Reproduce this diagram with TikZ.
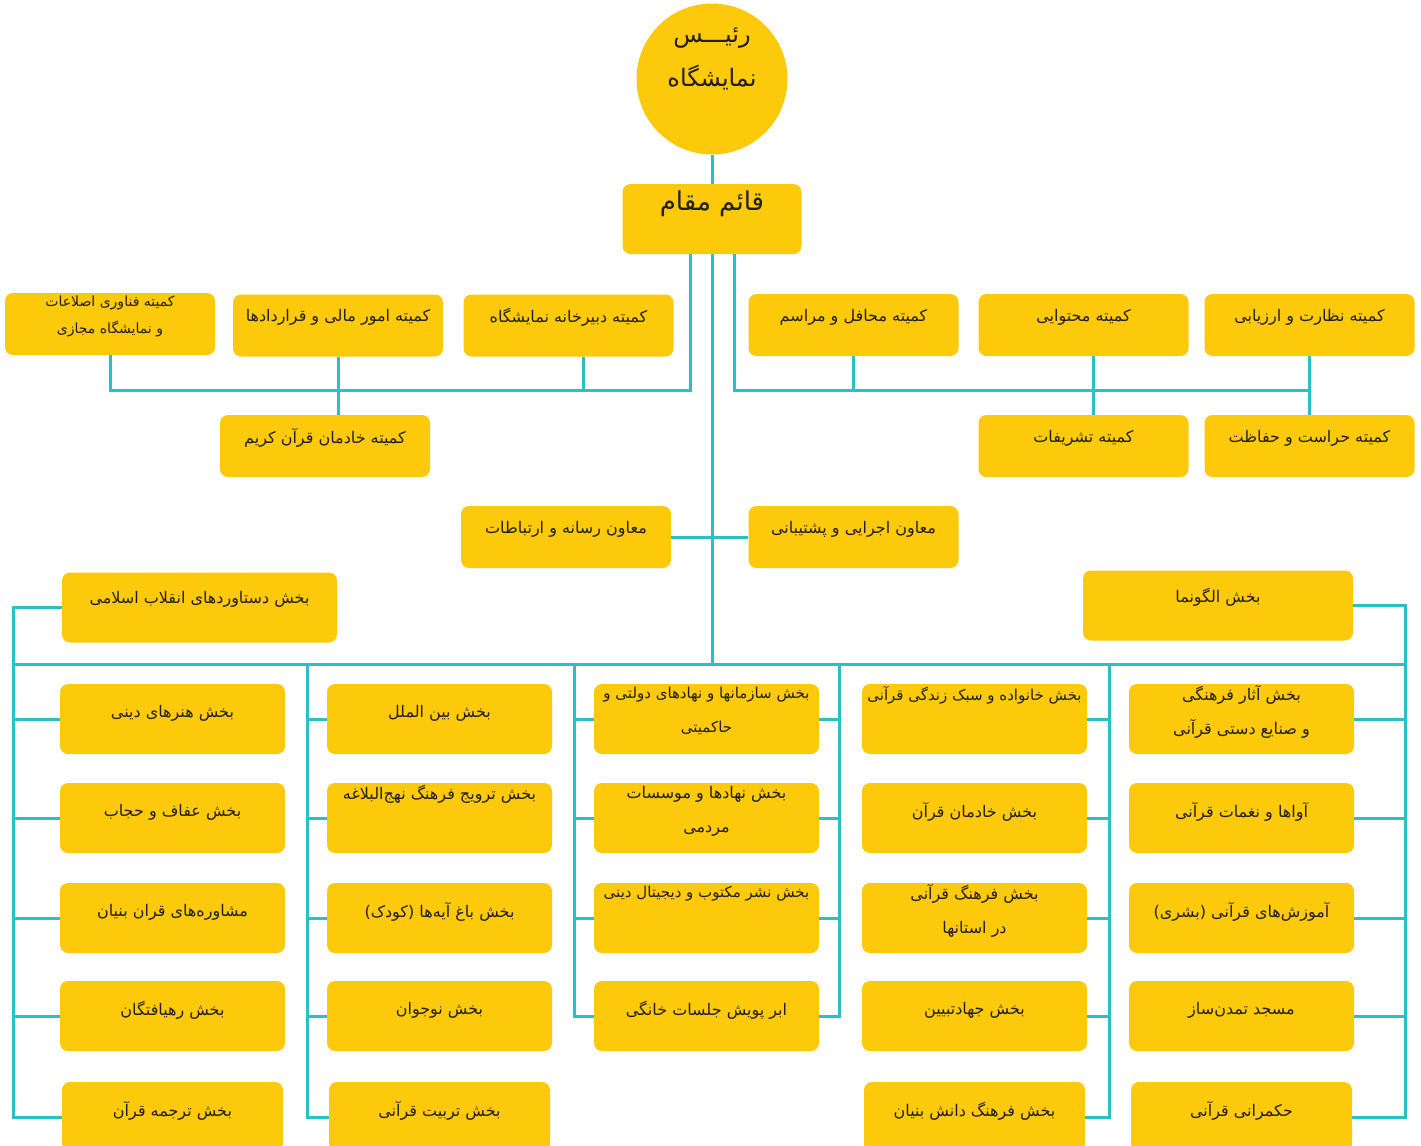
\documentclass[tikz,border=0pt]{standalone}
\usepackage{fontspec}
\newfontfamily\farsi[Script=Arabic]{DejaVu Sans}
\TeXXeTstate=1
\definecolor{boxyellow}{RGB}{253,201,11}
\definecolor{linkteal}{RGB}{44,192,196}
\definecolor{inkgray}{RGB}{35,31,32}
\newcommand{\fa}[1]{\beginR#1\endR}
\tikzset{
  drop/.store in=\boxdrop, drop=10pt,
  unitbox/.style={rectangle, rounded corners=4pt, fill=boxyellow, text=inkgray,
    align=center, inner sep=2pt, font=\farsi\fontsize{8}{17}\selectfont,
    execute at end node={\rule[-\boxdrop]{0pt}{0pt}}},
  cmtbox/.style={unitbox, minimum width=105pt, minimum height=31pt, drop=10pt},
  secbox/.style={unitbox, minimum width=112.5pt, minimum height=35pt, drop=8pt},
  twoline/.style={inner ysep=0pt, drop=9pt},
  small/.style={font=\farsi\fontsize{7.5}{17}\selectfont},
  link/.style={draw=linkteal, line width=1.5pt},
}
\begin{document}
\begin{tikzpicture}[x=0.5pt, y=-0.5pt]
  \useasboundingbox (0,0) rectangle (1421,1146);

  % head of the exhibition
  \node[circle, fill=boxyellow, minimum size=75.5pt, inner sep=0pt] (chief) at (712,79) {};
  \node[text=inkgray, align=center, font=\farsi\fontsize{12}{22}\selectfont] (chieflbl) at (712,59)
    {\fa{رئیـــس}\\\fa{نمایشگاه}};
  \node[unitbox, minimum width=89.5pt, minimum height=35pt, font=\farsi\fontsize{13}{17}\selectfont,
    drop=18pt] (deputy) at (712,219) {\fa{قائم مقام}};

  % committees, left
  \node[cmtbox, twoline, font=\farsi\fontsize{7}{13.5}\selectfont] (cmtIT) at (110,324)
    {\fa{کمیته فناوری اصلاعات}\\\fa{و نمایشگاه مجازی}};
  \node[cmtbox] (cmtFin) at (338,325.5) {\fa{کمیته امور مالی و قراردادها}};
  \node[cmtbox] (cmtSec) at (568.5,325.5) {\fa{کمیته دبیرخانه نمایشگاه}};
  \node[cmtbox] (cmtKhad) at (325,446) {\fa{کمیته خادمان قرآن کریم}};

  % committees, right
  \node[cmtbox] (cmtMah) at (853.5,325) {\fa{کمیته محافل و مراسم}};
  \node[cmtbox] (cmtMoh) at (1083.5,325) {\fa{کمیته  محتوایی}};
  \node[cmtbox] (cmtNez) at (1309.5,325) {\fa{کمیته نظارت و ارزیابی}};
  \node[cmtbox] (cmtTash) at (1083.5,446) {\fa{کمیته تشریفات}};
  \node[cmtbox] (cmtHar) at (1309.5,446) {\fa{کمیته حراست و حفاظت}};

  % deputies
  \node[cmtbox] (vpMedia) at (566,537) {\fa{معاون رسانه و ارتباطات}};
  \node[cmtbox] (vpExec) at (853.5,537) {\fa{معاون اجرایی و پشتیبانی}};

  % top sections
  \node[secbox, minimum width=137.5pt, drop=10pt] (secAch) at (199.5,607.5) {\fa{بخش دستاوردهای انقلاب اسلامی}};
  \node[secbox, minimum width=135pt, drop=10pt] (secOlg) at (1218,605.5) {\fa{بخش الگونما}};

  % column 1
  \node[secbox] (c1r1) at (172.5,719) {\fa{بخش هنرهای دینی}};
  \node[secbox] (c1r2) at (172.5,818) {\fa{بخش عفاف و حجاب}};
  \node[secbox] (c1r3) at (172.5,918) {\fa{مشاوره‌های قران بنیان}};
  \node[secbox] (c1r4) at (172.5,1016) {\fa{بخش رهیافتگان}};
  \node[secbox, minimum width=110.5pt] (c1r5) at (172.5,1117) {\fa{بخش ترجمه قرآن}};

  % column 2
  \node[secbox] (c2r1) at (439.5,719) {\fa{بخش بین الملل}};
  \node[secbox, twoline] (c2r2) at (439.5,818) {\fa{بخش ترویج فرهنگ نهج‌البلاغه}\\\mbox{}};
  \node[secbox] (c2r3) at (439.5,918) {\fa{بخش باغ آیه‌ها (کودک)}};
  \node[secbox] (c2r4) at (439.5,1016) {\fa{بخش نوجوان}};
  \node[secbox, minimum width=110.5pt] (c2r5) at (439.5,1117) {\fa{بخش تربیت قرآنی}};

  % column 3
  \node[secbox, twoline, small] (c3r1) at (706.5,719) {\fa{بخش سازمانها و نهادهای دولتی و}\\\fa{حاکمیتی}};
  \node[secbox, twoline] (c3r2) at (706.5,818) {\fa{بخش نهادها و موسسات}\\\fa{مردمی}};
  \node[secbox, twoline, small] (c3r3) at (706.5,918) {\fa{بخش نشر مکتوب و دیجیتال دینی}\\\mbox{}};
  \node[secbox] (c3r4) at (706.5,1016) {\fa{ابر پویش جلسات خانگی}};

  % column 4
  \node[secbox, twoline, small] (c4r1) at (974.5,719) {\fa{بخش خانواده و سبک زندگی قرآنی}\\\mbox{}};
  \node[secbox] (c4r2) at (974.5,818) {\fa{بخش خادمان قرآن}};
  \node[secbox, twoline] (c4r3) at (974.5,918) {\fa{بخش فرهنگ قرآنی}\\\fa{در استانها}};
  \node[secbox] (c4r4) at (974.5,1016) {\fa{بخش جهادتبیین}};
  \node[secbox, minimum width=110.5pt] (c4r5) at (974.5,1117) {\fa{بخش فرهنگ دانش بنیان}};

  % column 5
  \node[secbox, twoline] (c5r1) at (1241.5,719) {\fa{بخش آثار فرهنگی}\\\fa{و صنایع دستی قرآنی}};
  \node[secbox] (c5r2) at (1241.5,818) {\fa{آواها و نغمات قرآنی}};
  \node[secbox] (c5r3) at (1241.5,918) {\fa{آموزش‌های قرآنی (بشری)}};
  \node[secbox] (c5r4) at (1241.5,1016) {\fa{مسجد تمدن‌ساز}};
  \node[secbox, minimum width=110.5pt] (c5r5) at (1241.5,1117) {\fa{حکمرانی قرآنی}};

  % links to the committees
  \coordinate (cmtbusL) at (690,390);
  \coordinate (cmtbusR) at (734,390);
  \draw[link] (chief.south) -- (chief.south |- deputy.north);
  \draw[link] ([xshift=-11pt]deputy.south) -- (cmtbusL) -| (cmtIT.south);
  \draw[link] ([xshift=7.25pt]cmtSec.south) -- ([xshift=7.25pt]cmtSec.south |- cmtbusL);
  \draw[link] (cmtFin.south) -- (cmtFin.south |- cmtKhad.north);
  \draw[link] ([xshift=11pt]deputy.south) -- (cmtbusR) -| (cmtNez.south);
  \draw[link] (cmtNez.south) -- (cmtHar.north);
  \draw[link] (cmtMah.south) -- (cmtMah.south |- cmtbusR);
  \draw[link] ([xshift=4.75pt]cmtMoh.south) -- ([xshift=4.75pt]cmtTash.north);

  % trunk and main bus
  \coordinate (sp1) at (13,664);
  \coordinate (sp2) at (307,664);
  \coordinate (sp3) at (574,664);
  \coordinate (sp4) at (839,664);
  \coordinate (sp5) at (1109,664);
  \coordinate (sp6) at (1405,664);
  \draw[link] (deputy.south) -- (deputy.south |- sp1);
  \draw[link] (vpMedia.east) -- (vpExec.west);
  \draw[link] (sp1) -- (sp6);
  \draw[link] (secAch.west) -| (c1r5.west -| sp1) -- (c1r5.west);
  \draw[link] (secOlg.east) -| (c5r5.east -| sp6) -- (c5r5.east);
  \draw[link] (sp2) |- (c2r5.west);
  \draw[link] (sp3) |- (c3r4.west);
  \draw[link] (sp4) |- (c3r4.east);
  \draw[link] (sp5) |- (c4r5.east);
  \foreach \r in {1,...,4} {
    \draw[link] (c1r\r.west) -- (c1r\r.west -| sp1);
    \draw[link] (c2r\r.west) -- (c2r\r.west -| sp2);
    \draw[link] (c4r\r.east) -- (c4r\r.east -| sp5);
    \draw[link] (c5r\r.east) -- (c5r\r.east -| sp6);
  }
  \foreach \r in {1,2,3} {
    \draw[link] (c3r\r.west) -- (c3r\r.west -| sp3);
    \draw[link] (c3r\r.east) -- (c3r\r.east -| sp4);
  }
\end{tikzpicture}
\end{document}
